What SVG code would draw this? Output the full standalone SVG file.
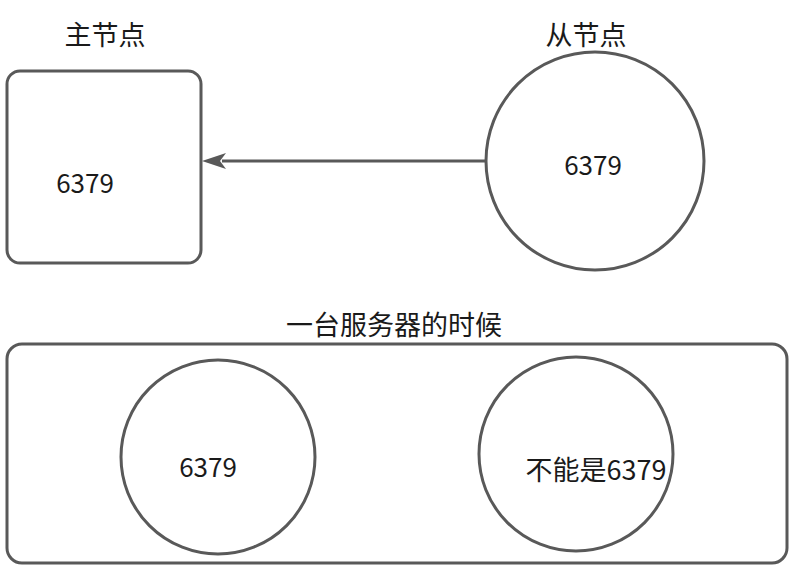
<svg xmlns="http://www.w3.org/2000/svg" width="794" height="570" viewBox="0 0 794 570">
<style>
.shape{fill:#fff;stroke:#595959;stroke-width:3}
.t{font-family:"Noto Sans CJK SC","Noto Sans",sans-serif;fill:#1a1a1a;text-anchor:middle}
.lbl{font-size:27px}
.num{font-size:26px}
.edge{stroke:#595959;stroke-width:3;fill:none}
</style>
<rect width="794" height="570" fill="#fff"/>
<g id="label-master"><text class="t lbl" x="105" y="45">主节点</text></g>
<g id="label-slave"><text class="t lbl" x="586" y="45">从节点</text></g>
<g id="master"><rect class="shape" x="7" y="71" width="194" height="192" rx="13"/><text class="t num" x="85" y="193">6379</text></g>
<g id="slave"><circle class="shape" cx="595" cy="161" r="109"/><text class="t num" x="593" y="175">6379</text></g>
<g id="server"><text class="t lbl" x="394" y="335">一台服务器的时候</text><rect class="shape" x="7" y="344" width="780" height="219" rx="15"/></g>
<g id="port1"><circle class="shape" cx="218" cy="457" r="97"/><text class="t num" x="208" y="477">6379</text></g>
<g id="port2"><circle class="shape" cx="576" cy="454" r="97"/><text class="t num" x="596" y="480" style="font-size:27px">不能是6379</text></g>
<g id="connectors"><line class="edge" x1="486" y1="161" x2="222" y2="161"/><path d="M226,153 L202,161 L226,169 L220,161 Z" fill="#595959"/></g>
</svg>
